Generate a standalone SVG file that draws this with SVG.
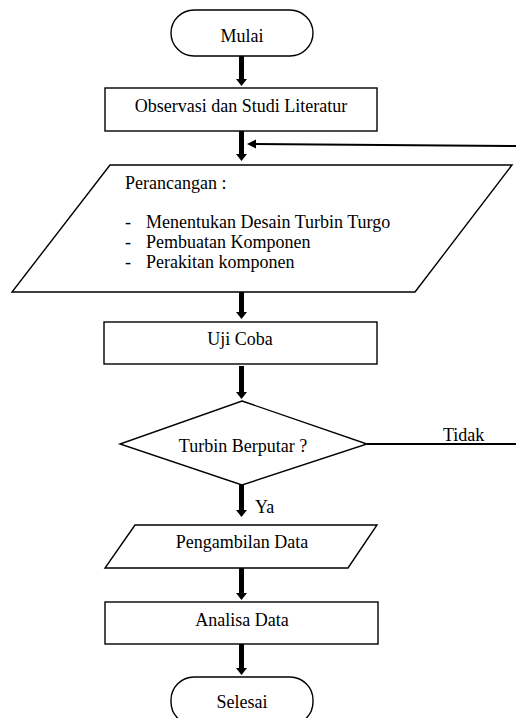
<svg xmlns="http://www.w3.org/2000/svg" width="516" height="718" viewBox="0 0 516 718">
<style>
.s{fill:#fff;stroke:#000;stroke-width:1.4}
.t{font-family:'Liberation Serif','Times New Roman',Tinos,'DejaVu Serif',serif;font-size:18px;fill:#000}
.c{text-anchor:middle}
.a{stroke:#000;stroke-width:5;fill:none}
.l{stroke:#000;stroke-width:2;fill:none}
</style>
<g id="connectors">
<path class="a" d="M241.5,56 V80"/><path d="M236,79 H247 L241.5,86 Z"/>
<path class="a" d="M241.5,131 V155"/><path d="M236,154 H247 L241.5,161 Z"/>
<path class="a" d="M241.5,292 V313"/><path d="M236,312 H247 L241.5,319 Z"/>
<path class="a" d="M241.5,366 V393"/><path d="M236,392 H247 L241.5,399 Z"/>
<path class="a" d="M241.5,485 V511"/><path d="M236,510 H247 L241.5,517 Z"/>
<path class="a" d="M241.5,568 V594"/><path d="M236,593 H247 L241.5,600 Z"/>
<path class="a" d="M241.5,644 V669"/><path d="M236,668 H247 L241.5,675 Z"/>
<path class="l" d="M516,146 L254,144"/><path d="M247,144 L256,139.5 L256,148.5 Z"/>
<path class="l" d="M367,444 H516"/>
<text class="t" x="443" y="441">Tidak</text>
<text class="t" x="255" y="513">Ya</text>
</g>
<g id="mulai">
<rect class="s" x="171" y="10" width="142" height="46" rx="23"/>
<text class="t c" x="242" y="42">Mulai</text>
</g>
<g id="observasi">
<rect class="s" x="105" y="88" width="272" height="43"/>
<text class="t c" x="241" y="112">Observasi dan Studi Literatur</text>
</g>
<g id="perancangan">
<path class="s" d="M110,165 L512,165 L415,292 L12,292 Z"/>
<text class="t" x="125" y="189">Perancangan :</text>
<text class="t" x="125" y="228">-</text><text class="t" x="146" y="228">Menentukan Desain Turbin Turgo</text>
<text class="t" x="125" y="248">-</text><text class="t" x="146" y="248">Pembuatan Komponen</text>
<text class="t" x="125" y="268">-</text><text class="t" x="146" y="268">Perakitan komponen</text>
</g>
<g id="ujicoba">
<rect class="s" x="104" y="322" width="273" height="42"/>
<text class="t c" x="240" y="345">Uji Coba</text>
</g>
<g id="turbin">
<path class="s" d="M242,401 L367,444 L242,485 L120,444 Z"/>
<text class="t c" x="243" y="452">Turbin Berputar ?</text>
</g>
<g id="pengambilan">
<path class="s" d="M135,525 L377,525 L348,568 L105,568 Z"/>
<text class="t c" x="242" y="548">Pengambilan Data</text>
</g>
<g id="analisa">
<rect class="s" x="105" y="602" width="273" height="42"/>
<text class="t c" x="242" y="626">Analisa Data</text>
</g>
<g id="selesai">
<rect class="s" x="171" y="677" width="142" height="48" rx="23"/>
<text class="t c" x="242" y="708">Selesai</text>
</g>
</svg>
